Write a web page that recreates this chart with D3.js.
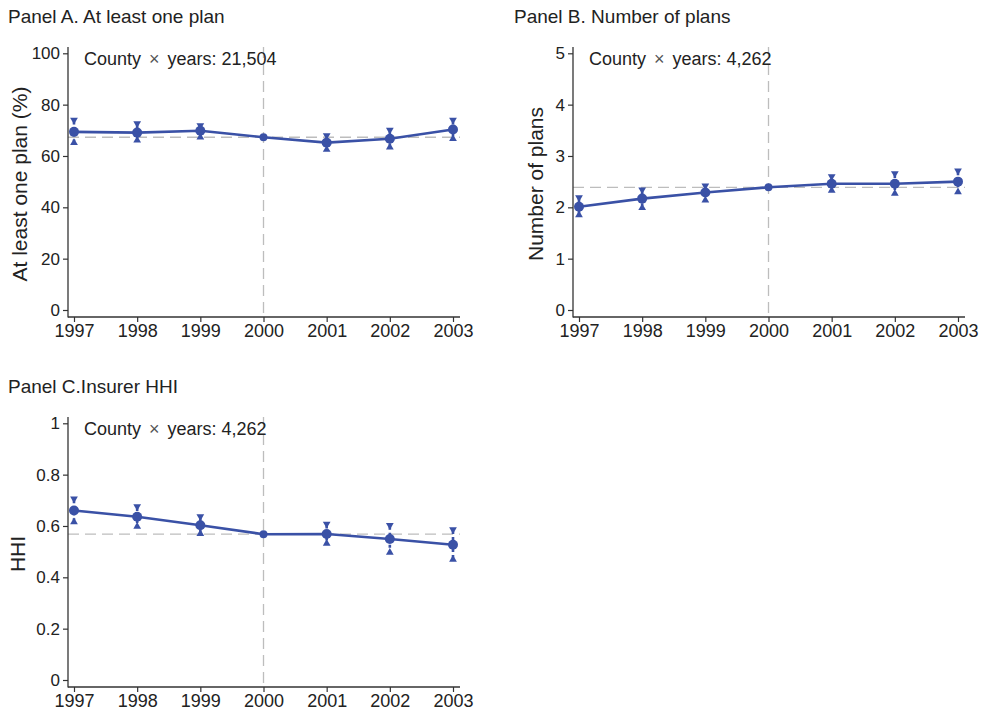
<!DOCTYPE html>
<html>
<head>
<meta charset="utf-8">
<script src="https://cdn.jsdelivr.net/npm/d3@7"></script>
<style>
  body { margin: 0; background: #fff; }
  svg text { font-family: "Liberation Sans", Arial, Helvetica, sans-serif; fill: #222; }
</style>
</head>
<body>
<svg id="chart"></svg>
<script>
const WIDTH = 985;
const HEIGHT = 714;

const BLUE = '#3a51a6';
const GREY = '#bdbdbd';
const AXIS = '#333';

const years = [1997, 1998, 1999, 2000, 2001, 2002, 2003];

// Panel A: at least one plan (%)
const anyPlan = [69.4, 69.1, 69.8, 67.3, 65.2, 66.7, 70.3];
const anyPlanLo = [64.6, 65.5, 66.7, null, 61.9, 62.8, 66.1];
const anyPlanHi = [74.6, 73.2, 72.5, null, 68.6, 70.7, 74.6];
const anyPlanTicks = [0, 20, 40, 60, 80, 100];

// Panel B: number of plans
const numPlans = [2.01, 2.17, 2.29, 2.39, 2.46, 2.46, 2.50];
const numPlansLo = [1.82, 1.96, 2.11, null, 2.30, 2.24, 2.27];
const numPlansHi = [2.22, 2.37, 2.45, null, 2.63, 2.69, 2.74];
const numPlansTicks = [0, 1, 2, 3, 4, 5];

// Panel C: insurer HHI
const hhi = [0.660, 0.636, 0.603, 0.568, 0.569, 0.549, 0.527];
const hhiLo = [0.610, 0.592, 0.564, null, 0.526, 0.491, 0.464];
const hhiHi = [0.712, 0.682, 0.643, null, 0.614, 0.609, 0.592];
const hhiTicks = [0, 0.2, 0.4, 0.6, 0.8, 1];

const panels = [
  { dx: 0, dy: 0, title: 'Panel A. At least one plan', ylab: 'At least one plan (%)',
    note: '21,504', vals: anyPlan, lo: anyPlanLo, hi: anyPlanHi,
    ticks: anyPlanTicks, ymax: 100, fmt: d => d, labX: 20 },
  { dx: 505, dy: 0, title: 'Panel B. Number of plans', ylab: 'Number of plans',
    note: '4,262', vals: numPlans, lo: numPlansLo, hi: numPlansHi,
    ticks: numPlansTicks, ymax: 5, fmt: d => d, labX: 31 },
  { dx: 0, dy: 370, title: 'Panel C.Insurer HHI', ylab: 'HHI',
    note: '4,262', vals: hhi, lo: hhiLo, hi: hhiHi,
    ticks: hhiTicks, ymax: 1, fmt: d => d === 0 || d === 1 ? d : d.toFixed(1), labX: 18 }
];

const svg = d3.select('#chart')
  .attr('width', WIDTH)
  .attr('height', HEIGHT);

panels.forEach(p => {
  const g = svg.append('g').attr('transform', `translate(${p.dx},${p.dy})`);

  const x = d3.scaleLinear().domain([1997, 2003]).range([74, 453]);
  const y = d3.scaleLinear().domain([0, p.ymax]).range([310, 53.3]);
  const axisX = 68, axisY = 317, top = 47, right = 460;

  // title
  g.append('text')
    .attr('x', p.dx === 0 ? 8 : 9)
    .attr('y', 23)
    .style('font-size', '19px')
    .text(p.title);

  // reference lines
  const refIdx = years.indexOf(2000);
  g.append('line')
    .attr('x1', x(2000)).attr('x2', x(2000))
    .attr('y1', top).attr('y2', axisY)
    .attr('stroke', GREY).attr('stroke-width', 1.3)
    .attr('stroke-dasharray', '11,6');
  g.append('line')
    .attr('x1', axisX).attr('x2', right)
    .attr('y1', y(p.vals[refIdx])).attr('y2', y(p.vals[refIdx]))
    .attr('stroke', GREY).attr('stroke-width', 1.3)
    .attr('stroke-dasharray', '11,6');

  // axes
  const yAxis = d3.axisLeft(y).tickValues(p.ticks).tickSize(5).tickPadding(3).tickFormat(p.fmt);
  const yG = g.append('g').attr('transform', `translate(${axisX},0)`).call(yAxis);
  yG.select('.domain').remove();
  yG.append('line').attr('x1', 0).attr('x2', 0).attr('y1', top).attr('y2', axisY + 0.5)
    .attr('stroke', AXIS).attr('stroke-width', 1.3);

  const xAxis = d3.axisBottom(x).tickValues(years).tickSize(5).tickPadding(2).tickFormat(d3.format('d'));
  const xG = g.append('g').attr('transform', `translate(0,${axisY})`).call(xAxis);
  xG.select('.domain').remove();
  xG.append('line').attr('x1', axisX).attr('x2', right).attr('y1', 0).attr('y2', 0)
    .attr('stroke', AXIS).attr('stroke-width', 1.3);

  [yG, xG].forEach(a => {
    a.selectAll('.tick line').attr('stroke', AXIS).attr('stroke-width', 1.2);
    a.selectAll('.tick text').style('font-size', '17px').attr('fill', '#222');
  });
  xG.selectAll('.tick text').style('font-size', '18px');

  // y-axis label
  g.append('text')
    .attr('transform', `translate(${p.labX},${(top + axisY) / 2 + 2}) rotate(-90)`)
    .attr('text-anchor', 'middle')
    .attr('dy', '0.35em')
    .style('font-size', '21px')
    .text(p.ylab);

  // note
  const note = g.append('text')
    .attr('x', 84)
    .attr('y', 65)
    .style('font-size', '18px');
  note.append('tspan').text('County');
  note.append('tspan').attr('dx', 8).attr('fill', '#555').style('font-weight', 300).text('\u00d7');
  note.append('tspan').attr('dx', 8).text(`years: ${p.note}`);

  // error bars
  const ci = years.map((yr, i) => ({ yr, lo: p.lo[i], hi: p.hi[i] })).filter(d => d.lo !== null);
  g.selectAll('.ci')
    .data(ci)
    .enter().append('line')
    .attr('x1', d => x(d.yr)).attr('x2', d => x(d.yr))
    .attr('y1', d => y(d.hi) + 3).attr('y2', d => y(d.lo) - 3)
    .attr('stroke', BLUE).attr('stroke-width', 2.6)
    .attr('stroke-dasharray', '3,3');

  const tri = d3.symbol().type(d3.symbolTriangle).size(26);
  g.selectAll('.capHi')
    .data(ci)
    .enter().append('path')
    .attr('d', tri)
    .attr('transform', d => `translate(${x(d.yr)},${y(d.hi) + 1.5}) rotate(180)`)
    .attr('fill', BLUE);
  g.selectAll('.capLo')
    .data(ci)
    .enter().append('path')
    .attr('d', tri)
    .attr('transform', d => `translate(${x(d.yr)},${y(d.lo) - 1.5})`)
    .attr('fill', BLUE);

  // line and points
  const line = d3.line().x((d, i) => x(years[i])).y(d => y(d));
  g.append('path')
    .datum(p.vals)
    .attr('d', line)
    .attr('fill', 'none')
    .attr('stroke', BLUE)
    .attr('stroke-width', 2.6);

  g.selectAll('.pt')
    .data(p.vals)
    .enter().append('circle')
    .attr('cx', (d, i) => x(years[i]))
    .attr('cy', d => y(d))
    .attr('r', (d, i) => years[i] === 2000 ? 4 : 5)
    .attr('fill', BLUE);
});
</script>
</body>
</html>
